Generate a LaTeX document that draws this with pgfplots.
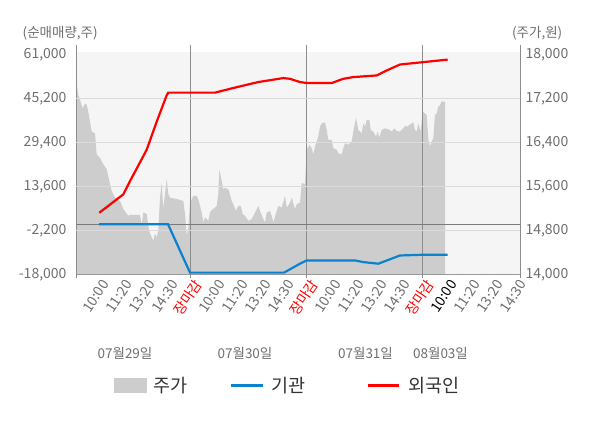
\documentclass[border=0pt]{standalone}
\usepackage{pgfplots}
\pgfplotsset{compat=1.18}
\usepackage{fontspec}
\setmainfont{Noto Sans CJK KR}
\definecolor{bgc}{HTML}{F5F5F5}
\definecolor{areac}{HTML}{CDCDCD}
\definecolor{gridc}{HTML}{DADADA}
\definecolor{dayc}{HTML}{8C8C8C}
\definecolor{zeroc}{HTML}{7A7A7A}
\definecolor{spinec}{HTML}{9A9A9A}
\definecolor{tickc}{HTML}{6E6E6E}
\definecolor{blueline}{HTML}{0A82CF}
\definecolor{legc}{HTML}{333333}
\newcommand{\tf}{\fontsize{14bp}{16bp}\selectfont}
\begin{document}
\begin{tikzpicture}
\useasboundingbox (0,0) rectangle (600bp,428bp);
% price axis (right)
\begin{axis}[
  at={(76bp,153.7bp)}, anchor=south west,
  scale only axis, width=444bp, height=229.3bp,
  xmin=0, xmax=444, ymin=14000, ymax=18169,
  axis x line=none, axis y line*=right,
  axis line style={-,draw=spinec},
  every outer y axis line/.append style={-},
  scaled y ticks=false,
  ytick={14000,14800,15600,16400,17200,18000},
  yticklabels={{14,000},{14,800},{15,600},{16,400},{17,200},{18,000}},
  major tick length=0pt,
  yticklabel style={font=\tf, text=tickc, anchor=west, xshift=2bp},
]
\fill[bgc] (axis cs:0,14000) rectangle (axis cs:444,18047);
\addplot[fill=areac, draw=none] coordinates {
(0,14000) (0,17250) (0.7,17454) (2.3,17261) (4,17171) (6.7,17014) (9,17105) (10.7,17081)
(12.3,16955) (14,16775) (15.7,16595) (19,16564) (20.7,16180) (24,16114) (27.3,16000)
(30.7,15910) (34,15640) (35.7,15513) (39,15393) (44,15333) (47.3,15189) (52.3,15063)
(54,15081) (64,15081) (65.7,14883) (67.3,15123) (70.7,15099) (72.3,14883) (74,14739)
(77.3,14613) (79,14739) (80.7,14672) (82.3,14793) (84,15393) (85.7,15663) (87.3,15189)
(89,15459) (90.7,15730) (92.3,15459) (94,15393) (100.7,15369) (107.3,15333) (109,15099)
(110.7,14703) (112.3,14852) (114,15279) (115.7,15364) (117.3,15424) (120.7,15424)
(122.3,15364) (124,15243) (125.7,15123) (127.3,14942) (129,15033) (132.3,14973)
(134,15123) (135.7,15166) (139,15213) (140.7,15243) (142.3,15454) (143.3,15905)
(145.7,15694) (147.3,15544) (149,15573) (152.3,15544) (154,15454) (155.7,15333)
(157.3,15274) (160,15153) (162.3,15243) (164.7,15243) (166.7,15094) (169,15063)
(172.3,14973) (175.7,15004) (179,15123) (182.3,15243) (184,15153) (187.3,15004)
(189,14942) (190.7,15123) (194,15153) (195.7,15063) (197.3,14942) (200.7,15153)
(202.3,15243) (205.7,15213) (209,15424) (210.7,15213) (214,15303) (215.7,15393)
(219,15184) (220.7,15274) (224,15303) (225.7,15663) (229,15634) (230.7,16265)
(233.3,16355) (235.7,16294) (237.3,16175) (239,16325) (240.7,16415) (242.3,16505)
(244,16685) (245.7,16744) (249,16762) (250.7,16625) (252.3,16445) (255.7,16445)
(257.3,16294) (260.7,16265) (262.3,16204) (265.7,16175) (267.3,16294) (269,16384)
(272.3,16355) (275.7,16415) (277.3,16595) (280,16847) (282.3,16625) (285.7,16564)
(287.3,16744) (289,16685) (290.7,16806) (293.3,16806) (294.7,16625) (297.3,16595)
(300,16505) (301.7,16595) (303.3,16487) (305.7,16625) (309,16654) (314,16625)
(315.7,16595) (318.3,16654) (320.7,16607) (324,16595) (327.3,16654) (329,16698)
(331.3,16685) (333.3,16716) (337.3,16762) (339,16625) (340.7,16595) (342.3,16744)
(344.7,16595) (346.7,16955) (349,16925) (350.7,16896) (352.3,16445) (354,16325)
(355.7,16415) (357.3,16474) (359,16896) (360.7,16925) (362.3,17045) (364,17076)
(365.7,17148) (368,17135) (369,17135) (369,14000)
};
\end{axis}
% net volume axis (left)
\begin{axis}[
  at={(76bp,153.7bp)}, anchor=south west,
  scale only axis, width=444bp, height=229.3bp,
  xmin=0, xmax=444, ymin=-18000, ymax=64340,
  axis x line*=bottom, axis y line*=left,
  axis line style={-,draw=spinec},
  every outer x axis line/.append style={-},
  every outer y axis line/.append style={-},
  scaled y ticks=false, scaled x ticks=false,
  ytick={-18000,-2200,13600,29400,45200,61000},
  yticklabels={{-18,000},{-2,200},{13,600},{29,400},{45,200},{61,000}},
  extra y ticks={-2200,13600,29400,45200}, extra y tick labels={},
  extra y tick style={ymajorgrids=true, grid style={gridc, line width=0.8bp}},
  xtick={21.2,44.4,67.6,90.8,114,137.2,160.4,183.6,206.8,230,253.2,276.4,299.6,322.8,346,369.2,392.4,415.6,438.8},
  xticklabels={10:00,11:20,13:20,14:30,\textcolor{red}{장마감},10:00,11:20,13:20,14:30,\textcolor{red}{장마감},10:00,11:20,13:20,14:30,\textcolor{red}{장마감},\textcolor{black}{10:00},11:20,13:20,14:30},
  extra x ticks={0,114,230,346,444}, extra x tick labels={},
  extra x tick style={xmajorgrids=true, grid style={dayc, line width=0.8bp}, major tick length=4bp, tick style={dayc}, tick align=outside},
  major tick length=0pt,
  yticklabel style={font=\tf, text=tickc, anchor=east, xshift=-6bp},
  xticklabel style={font=\tf, text=tickc, rotate=56, anchor=east, yshift=-11bp, xshift=2bp},
  legend columns=3,
  legend style={at={(0.0863,-0.484)}, anchor=west, draw=none, fill=none, inner sep=0pt, outer sep=0pt,
    font=\fontsize{18.5bp}{20bp}\selectfont, text=legc, nodes={inner sep=0pt},
    /tikz/every odd column/.append style={column sep=7.5bp},
    /tikz/every even column/.append style={column sep=42bp}},
]
\draw[zeroc, line width=0.9bp] (axis cs:0,0) -- (axis cs:444,0);
\addlegendimage{legend image code/.code={\fill[areac] (0bp,-7.3bp) rectangle (31.4bp,7.3bp);}}
\addlegendentry{주가}
\addlegendimage{legend image code/.code={\draw[blueline, line width=2.5bp] (0bp,0bp) -- (31.7bp,0bp);}}
\addlegendentry{기관\rule{19bp}{0pt}}
\addlegendimage{legend image code/.code={\draw[red, line width=2.5bp] (0bp,0bp) -- (31.7bp,0bp);}}
\addlegendentry{외국인}
\addplot[forget plot, blueline, line width=2.2bp] coordinates {
(23,0) (92,0) (114,-17395) (208,-17395) (224,-14192) (230.7,-13018) (279,-13018)
(287.3,-13623) (302.3,-14192) (324,-11239) (346.3,-10990) (371.7,-10990)
};
\addplot[forget plot, red, line width=2.2bp] coordinates {
(23.3,4100) (47.3,10700) (54,15451) (70.7,26731) (80.7,36802) (90.7,46304) (92.3,47231)
(139,47231) (157.3,48902) (182.3,51037) (207.3,52460) (214,52200) (224,51037)
(230.7,50681) (255.7,50681) (267.3,52200) (277.3,52816) (300.7,53410) (310.7,55200)
(324,57330) (346.3,58154) (371.7,59100)
};
\end{axis}
\node[anchor=west, inner sep=0pt, text=tickc, font=\fontsize{13.5bp}{15bp}\selectfont] at (22.5bp,395bp) {(순매매량,주)};
\node[anchor=east, inner sep=0pt, text=tickc, font=\fontsize{13.5bp}{15bp}\selectfont] at (562.5bp,395bp) {(주가,원)};
\node[inner sep=0pt, text=tickc, font=\fontsize{13.5bp}{15bp}\selectfont] at (125bp,75bp) {07월29일};
\node[inner sep=0pt, text=tickc, font=\fontsize{13.5bp}{15bp}\selectfont] at (245bp,75bp) {07월30일};
\node[inner sep=0pt, text=tickc, font=\fontsize{13.5bp}{15bp}\selectfont] at (365.5bp,75bp) {07월31일};
\node[inner sep=0pt, text=tickc, font=\fontsize{13.5bp}{15bp}\selectfont] at (440.5bp,75bp) {08월03일};
\end{tikzpicture}
\end{document}
